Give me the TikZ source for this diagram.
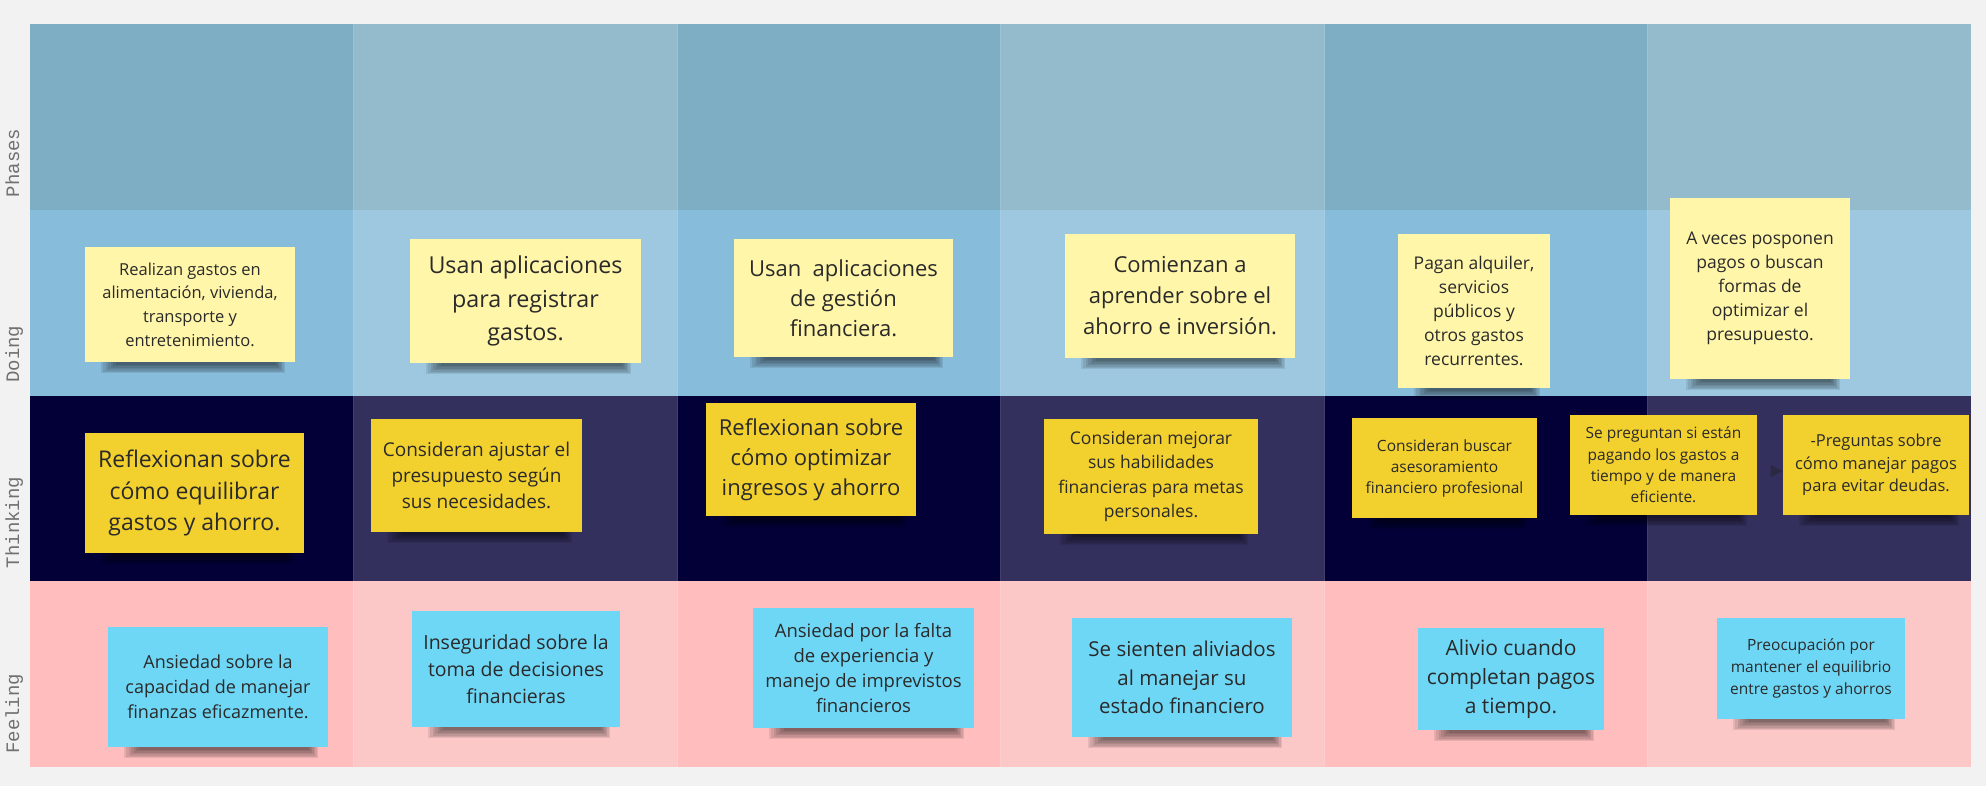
\documentclass[tikz,border=0pt]{standalone}
\usepackage{fontspec}
\setmainfont{Open Sans}
\newfontfamily\lanefont{Liberation Mono}
\usetikzlibrary{calc,arrows.meta}

% palette
\definecolor{pageBg}{HTML}{F2F2F2}
\definecolor{phaseA}{HTML}{7EAEC4}
\definecolor{phaseB}{HTML}{94BBCB}
\definecolor{doA}{HTML}{88BCDB}
\definecolor{doB}{HTML}{9DC8E0}
\definecolor{thinkA}{HTML}{020036}
\definecolor{thinkB}{HTML}{33305E}
\definecolor{feelA}{HTML}{FFBDBD}
\definecolor{feelB}{HTML}{FBC7C7}
\definecolor{stickyLight}{HTML}{FFF6A9}
\definecolor{stickyGold}{HTML}{F2D02E}
\definecolor{stickyCyan}{HTML}{6FD7F6}
\definecolor{inkText}{HTML}{2A2A2A}
\definecolor{laneInk}{HTML}{707070}
\definecolor{tipShade}{HTML}{2B2942}

\pgfdeclarelayer{back}
\pgfdeclarelayer{shade}
\pgfsetlayers{back,shade,main}

\tikzset{
  stickynote/.style={rectangle, inner sep=0pt, align=center, text=inkText},
  lanelabel/.style={rotate=90, anchor=base west, inner sep=0pt, text=laneInk,
    font=\lanefont\fontsize{9.5}{11}\selectfont},
  hiddenlink/.style={draw=thinkB, line width=0.5pt,
    -{Triangle[length=6pt,width=6pt,color=tipShade]}},
}

% soft shadow under the lower edge of a note
\newcommand\noteshadow[1]{%
  \foreach \k in {0,...,6}{%
    \fill[black, opacity=0.085]
      ($(#1.south west)+(16+2.5*\k,-8)$) rectangle ($(#1.south east)+(-10-1.5*\k,11-1.4*\k)$);
  }}

% sticky note: name, colour, x1, y1, x2, y2, font size, line skip, text
\newcommand\sticky[9]{%
  \node[stickynote, fill=#2, minimum width={(#5-#3)*0.5pt}, minimum height={(#6-#4)*0.5pt},
        font={\fontsize{#7}{#8}\selectfont}] (#1) at ({(#3+#5)/2},{(#4+#6)/2}) {#9};
  \begin{pgfonlayer}{shade}\noteshadow{#1}\end{pgfonlayer}}

\begin{document}
\begin{tikzpicture}[x=0.5pt,y=-0.5pt]
\useasboundingbox (0,0) rectangle (1986,786);

\begin{pgfonlayer}{back}
  \fill[pageBg] (0,0) rectangle (1986,786);
  % swim-lane grid: 4 rows x 6 columns, alternating shades
  \foreach \ca/\cb [count=\r from 0] in {phaseA/phaseB,doA/doB,thinkA/thinkB,feelA/feelB}{
    \foreach \c in {0,2,4}{
      \fill[\ca] ({30+323.5*\c},{24+185.75*\r}) rectangle ({30+323.5*(\c+1)},{24+185.75*(\r+1)});
      \fill[\cb] ({30+323.5*(\c+1)},{24+185.75*\r}) rectangle ({30+323.5*(\c+2)},{24+185.75*(\r+1)});
    }
  }
  \foreach \c in {1,...,5}{
    \draw[white, opacity=0.25, line width=0.5pt] ({30+323.5*\c},24) -- ({30+323.5*\c},767);
  }
\end{pgfonlayer}

% lane titles
\node[lanelabel] (lanePhases)   at (19,197.5) {Phases};
\node[lanelabel] (laneDoing)    at (19,383)   {Doing};
\node[lanelabel] (laneThinking) at (19,568.5) {Thinking};
\node[lanelabel] (laneFeeling)  at (19,754)   {Feeling};

% Doing
\sticky{d1}{stickyLight}{85}{247}{295}{362}{8.25}{11.85}{Realizan gastos en\\alimentación, vivienda,\\transporte y\\entretenimiento.}
\sticky{d2}{stickyLight}{410}{239}{641}{363}{11.65}{16.65}{Usan aplicaciones\\para registrar\\gastos.}
\sticky{d3}{stickyLight}{734}{239}{953}{357}{11}{15}{Usan~ aplicaciones\\de gestión\\financiera.}
\sticky{d4}{stickyLight}{1065}{234}{1295}{358}{11}{15.5}{Comienzan a\\aprender sobre el\\ahorro e inversión.}
\sticky{d5}{stickyLight}{1398}{234}{1550}{388}{8.75}{12.1}{Pagan alquiler,\\servicios\\públicos y\\otros gastos\\recurrentes.}
\sticky{d6}{stickyLight}{1670}{198}{1850}{379}{8.75}{12}{A veces posponen\\pagos o buscan\\formas de\\optimizar el\\presupuesto.}

% Thinking
\sticky{t1}{stickyGold}{85}{433}{304}{553}{11.5}{15.85}{Reflexionan sobre\\cómo equilibrar\\gastos y ahorro.}
\sticky{t2}{stickyGold}{371}{419}{582}{532}{9.5}{12.9}{Consideran ajustar el\\presupuesto según\\sus necesidades.}
\sticky{t3}{stickyGold}{706}{403}{916}{516}{11}{15}{Reflexionan sobre\\cómo optimizar\\ingresos y ahorro}
\sticky{t4}{stickyGold}{1044}{419}{1258}{534}{8.75}{12.1}{Consideran mejorar\\sus habilidades\\financieras para metas\\personales.}
\sticky{t5}{stickyGold}{1352}{418}{1537}{518}{7.75}{10.5}{Consideran buscar\\asesoramiento\\financiero profesional}
\sticky{t6}{stickyGold}{1570}{415}{1757}{515}{7.75}{10.7}{Se preguntan si están\\pagando los gastos a\\tiempo y de manera\\eficiente.}
\sticky{t7}{stickyGold}{1783}{415}{1969}{515}{8.25}{11.25}{-Preguntas sobre\\cómo manejar pagos\\para evitar deudas.}
\draw[hiddenlink] ([yshift=-3pt]t6.east) -- ([yshift=-3pt]t7.west);

% Feeling
\sticky{f1}{stickyCyan}{108}{627}{328}{747}{9}{12.5}{Ansiedad sobre la\\capacidad de manejar\\finanzas eficazmente.}
\sticky{f2}{stickyCyan}{412}{611}{620}{727}{9.75}{13.35}{Inseguridad sobre la\\toma de decisiones\\financieras}
\sticky{f3}{stickyCyan}{753}{608}{974}{728}{9.25}{12.65}{Ansiedad por la falta\\de experiencia y\\manejo de imprevistos\\financieros}
\sticky{f4}{stickyCyan}{1072}{618}{1292}{737}{10.25}{14.1}{Se sienten aliviados\\al manejar su\\estado financiero}
\sticky{f5}{stickyCyan}{1418}{628}{1604}{730}{10.5}{14.4}{Alivio cuando\\completan pagos\\a tiempo.}
\sticky{f6}{stickyCyan}{1717}{618}{1905}{719}{7.75}{10.85}{Preocupación por\\mantener el equilibrio\\entre gastos y ahorros}
\end{tikzpicture}
\end{document}
